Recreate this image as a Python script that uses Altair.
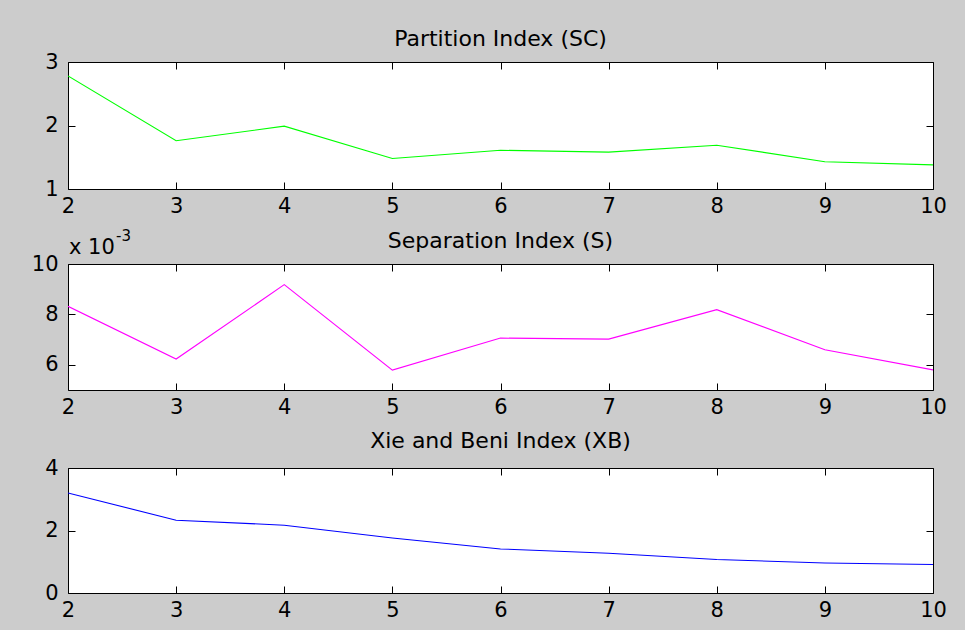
import altair as alt
import pandas as pd

# number of clusters
clusters = [2, 3, 4, 5, 6, 7, 8, 9, 10]

# validity indices per cluster count
partition_sc = [2.78, 1.76, 1.99, 1.48, 1.61, 1.58, 1.69, 1.43, 1.38]
separation_s = [0.00832, 0.00623, 0.00918, 0.00579, 0.00706, 0.00702, 0.00819, 0.00660, 0.00580]
xie_beni_xb = [3.20, 2.33, 2.17, 1.76, 1.41, 1.27, 1.07, 0.96, 0.91]

titles = ["Partition Index (SC)", "Separation Index (S)", "Xie and Beni Index (XB)"]
colors = ["#00ff00", "#ff00ff", "#0000ff"]

sc_ticks = [1, 2, 3]
s_ticks = [0.006, 0.008, 0.010]
xb_ticks = [0, 2, 4]

FONT = "DejaVu Sans"
FS = 21
TFS = 22
W = 865
TICK = 7


def panel(values, color, title, ydom, yticks, height, title_offset,
          label_expr="format(datum.value, 'd')", exponent=False):
    df = pd.DataFrame({"k": clusters, "v": values})
    xs = alt.Scale(domain=[2, 10], nice=False, zero=False)
    ys = alt.Scale(domain=ydom, nice=False, zero=False)

    base = alt.Chart(df)

    # line with the labelled bottom/left axes
    line = base.mark_line(color=color, strokeWidth=1.1, clip=True).encode(
        x=alt.X("k:Q", scale=xs, axis=alt.Axis(
            orient="bottom", values=clusters, ticks=False, domain=False,
            grid=False, title=None, labelPadding=6, labelFlush=False,
            minExtent=30, maxExtent=30)),
        y=alt.Y("v:Q", scale=ys, axis=alt.Axis(
            orient="left", values=yticks, ticks=False, domain=False, grid=False,
            title=None, labelPadding=10, labelFlush=False, minExtent=45, maxExtent=45,
            labelBaseline="middle", labelExpr=label_expr)),
    )

    # inward ticks along the bottom and left edges
    ticks_a = base.mark_line(opacity=0).encode(
        x=alt.X("k:Q", scale=xs, axis=alt.Axis(
            orient="top", offset=-height, values=clusters, labels=False,
            tickSize=TICK, domain=False, grid=False, title=None)),
        y=alt.Y("v:Q", scale=ys, axis=alt.Axis(
            orient="right", offset=-W, values=yticks, labels=False,
            tickSize=TICK, domain=False, grid=False, title=None)),
    )

    # inward ticks along the top and right edges
    ticks_b = base.mark_line(opacity=0).encode(
        x=alt.X("k:Q", scale=xs, axis=alt.Axis(
            orient="bottom", offset=-height, values=clusters, labels=False,
            tickSize=TICK, domain=False, grid=False, title=None)),
        y=alt.Y("v:Q", scale=ys, axis=alt.Axis(
            orient="left", offset=-W, values=yticks, labels=False,
            tickSize=TICK, domain=False, grid=False, title=None)),
    )

    layers = [line, ticks_a, ticks_b]

    if exponent:
        note = pd.DataFrame({"t": ["x 10"], "e": ["-3"]})
        layers.append(
            alt.Chart(note).mark_text(
                align="left", baseline="alphabetic", font=FONT, fontSize=FS, color="#000"
            ).encode(x=alt.value(1), y=alt.value(-10), text="t:N")
        )
        layers.append(
            alt.Chart(note).mark_text(
                align="left", baseline="alphabetic", font=FONT, fontSize=15, color="#000"
            ).encode(x=alt.value(48), y=alt.value(-23), text="e:N")
        )

    return alt.layer(*layers).resolve_axis(x="independent", y="independent").properties(
        width=W, height=height,
        title=alt.TitleParams(
            title, font=FONT, fontSize=TFS, fontWeight="normal", color="#000",
            anchor="middle", offset=title_offset),
    )


p1 = panel(partition_sc, colors[0], titles[0], [1, 3], sc_ticks, 127, 0)
p2 = panel(separation_s, colors[1], titles[1], [0.005, 0.010], s_ticks, 126, -24,
           label_expr="round(datum.value * 1000)", exponent=True)
p3 = panel(xie_beni_xb, colors[2], titles[2], [0, 4], xb_ticks, 125, 4)

chart = alt.vconcat(p1, p2, p3, spacing=8).properties(
    background="#cccccc",
    padding={"left": 22, "top": 27, "right": 18, "bottom": 8},
).configure_view(
    fill="white", stroke="#000", strokeWidth=1
).configure_axis(
    labelFont=FONT, labelFontSize=FS, labelColor="#000", tickColor="#000",
    tickWidth=1,
)

chart.save("out.html", embed_options={"renderer": "svg", "actions": False})
